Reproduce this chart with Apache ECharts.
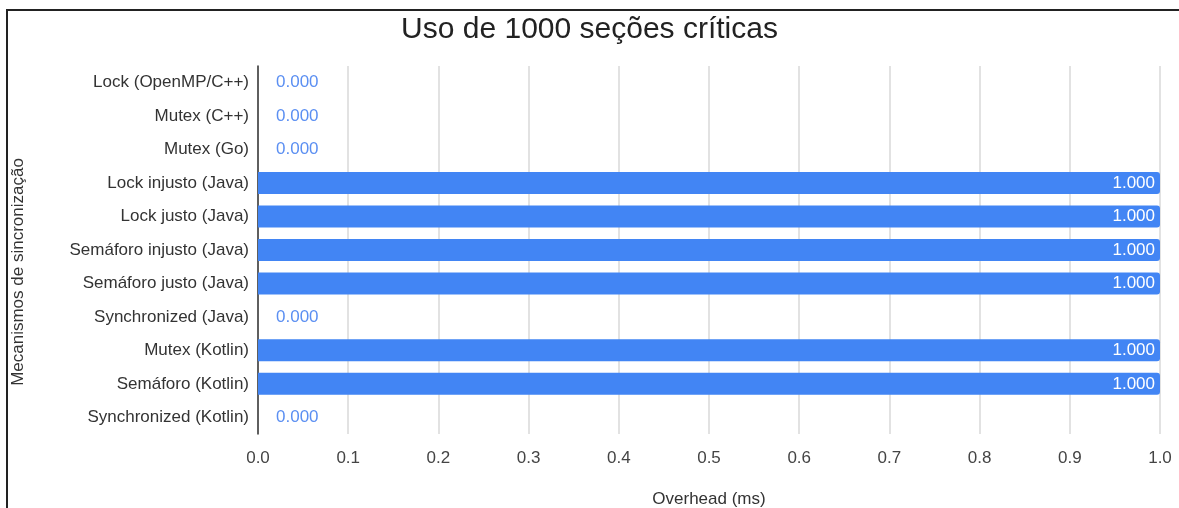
<!DOCTYPE html>
<html>
<head>
<meta charset="utf-8">
<script src="https://cdn.jsdelivr.net/npm/echarts@6/dist/echarts.min.js"></script>
<style>
  html, body { margin: 0; padding: 0; background: #fff; overflow: hidden; }
  #frame { position: absolute; left: 6px; top: 9px; width: 1180px; height: 505px;
    border-left: 2px solid #222; border-top: 2px solid #222; }
  #chart { position: absolute; left: 0; top: 0; width: 1179px; height: 508px; }
</style>
</head>
<body>
<div id="frame"></div>
<div id="chart"></div>
<script>
// categorias (de cima para baixo)
const mecanismos = [
  'Lock (OpenMP/C++)',
  'Mutex (C++)',
  'Mutex (Go)',
  'Lock injusto (Java)',
  'Lock justo (Java)',
  'Semáforo injusto (Java)',
  'Semáforo justo (Java)',
  'Synchronized (Java)',
  'Mutex (Kotlin)',
  'Semáforo (Kotlin)',
  'Synchronized (Kotlin)'
]
// overhead em ms
const overhead = [0, 0, 0, 1, 1, 1, 1, 0, 1, 1, 0]
const xTicks = [0, 0.1, 0.2, 0.3, 0.4, 0.5, 0.6, 0.7, 0.8, 0.9, 1.0]

const fonte = 'Liberation Sans, Arial'
const chart = echarts.init(document.getElementById('chart'))
chart.setOption({
  animation: false,
  title: {
    text: 'Uso de 1000 seções críticas',
    left: 'center',
    top: 10,
    textStyle: { fontFamily: fonte, fontSize: 30, fontWeight: 'normal', color: '#222' }
  },
  grid: { left: 258, right: 19, top: 66, bottom: 74, containLabel: false, outerBoundsMode: 'none' },
  xAxis: {
    type: 'value',
    min: xTicks[0],
    max: xTicks[xTicks.length - 1],
    interval: 0.1,
    name: 'Overhead (ms)',
    nameLocation: 'middle',
    nameGap: 57,
    nameTextStyle: { fontFamily: fonte, fontSize: 17, color: '#333' },
    axisLine: { show: false },
    axisTick: { show: false },
    axisLabel: {
      margin: 16,
      fontFamily: fonte,
      fontSize: 17,
      color: '#444',
      formatter: v => v.toFixed(1)
    },
    splitLine: { lineStyle: { color: '#d9d9d9', width: 1.5 } }
  },
  yAxis: {
    type: 'category',
    inverse: true,
    data: mecanismos,
    name: 'Mecanismos de sincronização',
    nameLocation: 'middle',
    nameGap: 231,
    nameRotate: 90,
    nameTextStyle: { fontFamily: fonte, fontSize: 17, color: '#333', padding: [0, 44, 0, 0] },
    axisLine: { lineStyle: { color: '#333', width: 1.5 } },
    axisTick: { show: false },
    axisLabel: { margin: 9, fontFamily: fonte, fontSize: 17, color: '#333' }
  },
  series: [
    {
      type: 'bar',
      data: overhead.map(v => ({
        value: v,
        label: v > 0
          ? { position: 'insideRight', color: '#fff', distance: 5 }
          : { position: 'right', color: '#5b8ff2', distance: 18 }
      })),
      barWidth: 22,
      itemStyle: { color: '#4285f4', borderRadius: [0, 3, 3, 0] },
      label: {
        show: true,
        fontFamily: fonte,
        fontSize: 17,
        formatter: p => p.value.toFixed(3)
      }
    }
  ]
})
</script>
</body>
</html>
